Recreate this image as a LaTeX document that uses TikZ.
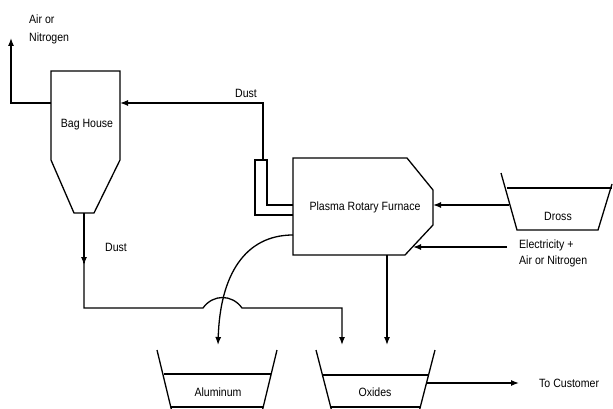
\documentclass[tikz,border=0pt]{standalone}
\usepackage{fontspec}
\setmainfont{Liberation Sans}
\usetikzlibrary{arrows.meta}
\begin{document}
\begin{tikzpicture}[x=1pt,y=-1pt,
  ln/.style={line width=1.3pt, line join=miter},
  arr/.style={ln, -{Latex[length=8pt,width=6pt]}},
  lbl/.style={font=\fontsize{12}{13}\selectfont, inner sep=0pt, align=left, xscale=0.88}]
\useasboundingbox (0,0) rectangle (613,409);
% coordinates
\coordinate (bhL) at (51,103);
\coordinate (bhR) at (120,103);
\coordinate (bhOut) at (84,213);
\coordinate (airTop) at (11,38);
\coordinate (airCorner) at (11,103);
\coordinate (ductTop) at (263,160);
\coordinate (ductCorner) at (263,103);
\coordinate (furnR) at (433,205);
\coordinate (furnChamf) at (413,247);
\coordinate (furnCurve) at (293,235);
\coordinate (furnBot) at (387,255);
\coordinate (drossL) at (509,205);
\coordinate (elecStart) at (507,247);
\coordinate (alTop) at (218,345);
\coordinate (oxTop1) at (342,345);
\coordinate (oxTop2) at (387,345);
\coordinate (oxR) at (426,383);
\coordinate (custArrow) at (519,383);
% Bag house
\draw[ln] (51,71) -- (120,71) -- (120,160) -- (94,213) -- (74,213) -- (51,160) -- cycle;
\node[lbl] (bh) at (87,125) {Bag House};
% air outlet
\draw[arr] (bhL) -- (airCorner) -- (airTop);
\node[lbl, anchor=north west] (air) at (29,15) {Air or\\[5pt]Nitrogen};
% furnace
\draw[ln] (293,158) -- (407,158) -- (433,190) -- (433,225) -- (405,255) -- (293,255) -- cycle;
\node[lbl] (furn) at (365,207) {Plasma Rotary Furnace};
% duct
\draw[ln] (293,215) -- (255,215) -- (255,160) -- (267,160) -- (267,205) -- (293,205);
\draw[arr] (ductTop) -- (ductCorner) -- (bhR);
\node[lbl] (dust1) at (246,93) {Dust};
% dust from bag house
\draw[ln] (bhOut) -- (84,263);
\draw[arr] (84,240) -- (84,265);
\draw[arr] (84,263) -- (84,308) -- (203,308) .. controls (213,294) and (232,294) .. (242,308) -- (342,308) -- (oxTop1);
\node[lbl] (dust2) at (116,247) {Dust};
% dross
\draw[ln] (501,173) -- (517,230) -- (598,230) -- (612,184);
\draw[line width=2.2pt] (507,188) -- (612,188);
\node[lbl] (dross) at (558,216) {Dross};
\draw[arr] (drossL) -- (furnR);
% electricity
\draw[arr] (elecStart) -- (furnChamf);
\node[lbl, anchor=north west] (elec) at (519,240) {Electricity +\\[3pt]Air or Nitrogen};
% aluminum curve
\draw[arr] (furnCurve) .. controls (245,235) and (220,275) .. (alTop);
% oxides straight
\draw[arr] (furnBot) -- (oxTop2);
% containers
\draw[ln] (157,350) -- (172,412);
\draw[ln] (277,350) -- (262,412);
\draw[ln] (164,374) -- (271,374);
\draw[ln] (171,407) -- (263,407);
\node[lbl] (al) at (218,392) {Aluminum};
\draw[ln] (316,350) -- (332,412);
\draw[ln] (435,350) -- (419,412);
\draw[ln] (322,375) -- (429,375);
\draw[ln] (331,407) -- (420,407);
\node[lbl] (ox) at (375,392) {Oxides};
% to customer
\draw[arr] (oxR) -- (custArrow);
\node[lbl, anchor=west] (cust) at (539,383) {To Customer};
\end{tikzpicture}
\end{document}
